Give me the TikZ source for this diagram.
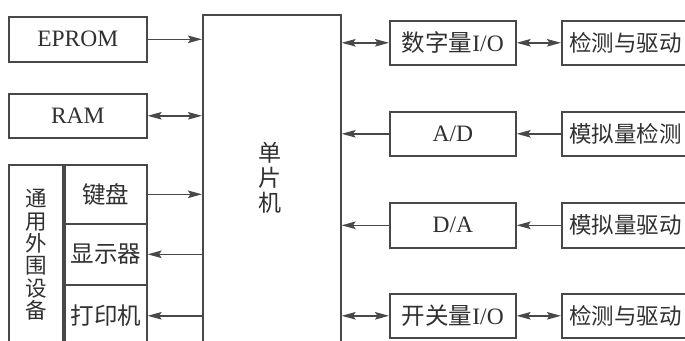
\documentclass[tikz,border=0pt]{standalone}
\usepackage{fontspec}
\setmainfont{Liberation Serif}
\newfontfamily\cjk{Noto Sans CJK SC}
\usetikzlibrary{arrows.meta}
\definecolor{linec}{HTML}{484848}
\definecolor{textc}{HTML}{303030}
\begin{document}
\begin{tikzpicture}[x=1pt,y=-1pt,
  box/.style={draw=linec, line width=1.6pt, inner sep=0pt, anchor=north west, text=textc,
              font=\fontsize{23.5}{25}\selectfont},
  cjkbox/.style={box, font=\cjk\fontsize{23.5}{25}\selectfont},
  rbox/.style={box, font=\cjk\fontsize{22.5}{25}\selectfont},
  arr/.style={draw=linec, line width=1.6pt, -{Stealth[length=14pt,width=7.5pt,inset=2.5pt]}},
  biarr/.style={draw=linec, line width=1.6pt, {Stealth[length=14pt,width=7.5pt,inset=2.5pt]}-{Stealth[length=14pt,width=7.5pt,inset=2.5pt]}}
]
\useasboundingbox (0,0) rectangle (685,340);
\clip (0,0) rectangle (685,340);
\fill[white] (0,0) rectangle (685,340);

% left column
\node[box, minimum width=138pt, minimum height=45pt] (eprom) at (8,16) {EPROM};
\node[box, minimum width=138pt, minimum height=44pt] (ram) at (8,93) {RAM};
\node[box, minimum width=54pt, minimum height=180pt] (periph) at (8,164) {};
\node[text=textc, align=center, font=\cjk\fontsize{21.5}{22.4}\selectfont] (periphlbl) at (periph.center) {通\\用\\外\\围\\设\\备};
\node[cjkbox, minimum width=82pt, minimum height=59pt] (kbd) at (64,164) {键盘};
\node[cjkbox, minimum width=82pt, minimum height=61pt] (disp) at (64,223) {显示器};
\node[cjkbox, minimum width=82pt, minimum height=62pt] (prn) at (64,284) {打印机};

% MCU
\node[box, minimum width=138pt, minimum height=328pt] (mcu) at (202,14) {};
\node[text=textc, align=center, font=\cjk\fontsize{23}{25}\selectfont] (mculbl) at (270,178) {单\\片\\机};

% middle column
\node[box, minimum width=126pt, minimum height=44pt] (dio) at (389,20) {{\cjk 数字量}I/O};
\node[box, minimum width=126pt, minimum height=44pt] (ad) at (389,111) {A/D};
\node[box, minimum width=126pt, minimum height=45pt] (da) at (389,202) {D/A};
\node[box, minimum width=126pt, minimum height=44pt] (sio) at (389,293) {{\cjk 开关量}I/O};

% right column
\node[rbox, minimum width=127pt, minimum height=44pt] (det1) at (561,20) {检测与驱动};
\node[rbox, minimum width=127pt, minimum height=44pt] (adet) at (561,111) {模拟量检测};
\node[rbox, minimum width=127pt, minimum height=45pt] (adrv) at (561,202) {模拟量驱动};
\node[rbox, minimum width=127pt, minimum height=44pt] (det2) at (561,293) {检测与驱动};

% connectors left
\draw[arr] (eprom.east) -- (eprom.east -| mcu.west);
\draw[biarr] (ram.east) -- (ram.east -| mcu.west);
\draw[arr] (kbd.east) -- (kbd.east -| mcu.west);
\draw[arr] (disp.east -| mcu.west) -- (disp.east);
\draw[arr] (prn.east -| mcu.west) -- (prn.east);

% connectors right
\draw[biarr] (dio.west -| mcu.east) -- (dio.west);
\draw[arr] (ad.west) -- (ad.west -| mcu.east);
\draw[arr] (da.west) -- (da.west -| mcu.east);
\draw[biarr] (sio.west -| mcu.east) -- (sio.west);

\draw[biarr] (dio.east) -- (det1.west);
\draw[arr] (adet.west) -- (ad.east);
\draw[arr] (adrv.west) -- (da.east);
\draw[biarr] (sio.east) -- (det2.west);
\end{tikzpicture}
\end{document}
